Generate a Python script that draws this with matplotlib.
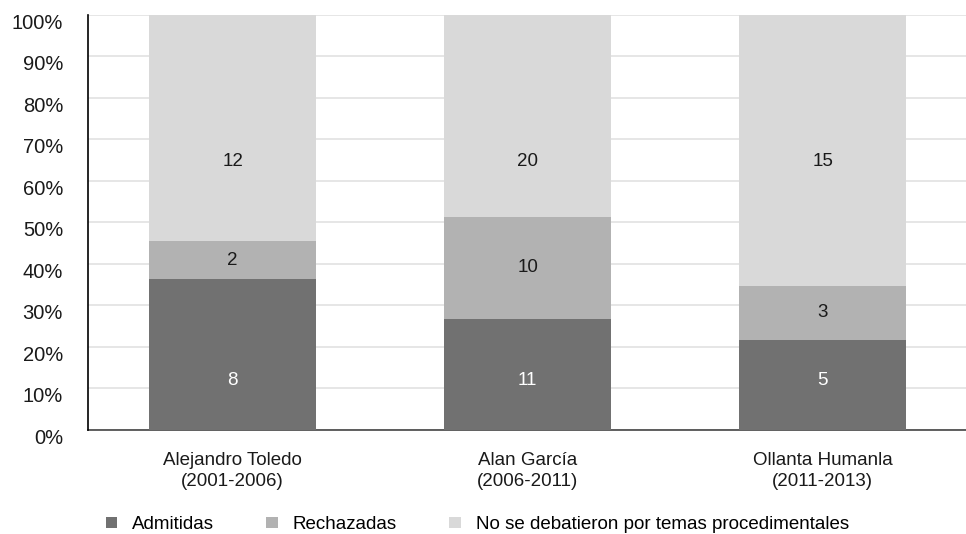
import matplotlib.pyplot as plt
import matplotlib.transforms as mtransforms
import numpy as np

plt.rcParams['font.family'] = ['Liberation Sans', 'DejaVu Sans']

presidentes = ['Alejandro Toledo\n(2001-2006)', 'Alan García\n(2006-2011)', 'Ollanta Humanla\n(2011-2013)']
admitidas = [8, 11, 5]
rechazadas = [2, 10, 3]
no_debatidas = [12, 20, 15]

# nombre, valores, color, color del texto, altura fija de la etiqueta (None = centro del tramo)
series = [
    ('Admitidas', admitidas, '#717171', 'white', 12),
    ('Rechazadas', rechazadas, '#b2b2b2', '#1a1a1a', None),
    ('No se debatieron por temas procedimentales', no_debatidas, '#d9d9d9', '#1a1a1a', 64.7),
]

totales = np.array(admitidas) + np.array(rechazadas) + np.array(no_debatidas)

fig = plt.figure(figsize=(9.66, 5.34), dpi=100)
ax = fig.add_axes([0.0911, 0.195, 0.9089, 0.777])

x = np.arange(len(presidentes))
base = np.zeros(len(presidentes))
for nombre, vals, color, tcolor, ypos in series:
    pct = np.array(vals) / totales * 100
    bars = ax.bar(x, pct, 0.566, bottom=base, color=color, label=nombre, zorder=3)
    for b, v, p, b0 in zip(bars, vals, pct, base):
        yl = b0 + p / 2 if ypos is None else ypos
        ax.text(b.get_x() + b.get_width() / 2, yl, str(v),
                ha='center', va='center', fontsize=13.5, color=tcolor, zorder=4)
    base = base + pct

ax.set_xlim(-0.49, 2.486)
ax.set_ylim(0, 100)
ax.set_yticks(np.arange(0, 101, 10))
ax.set_yticklabels([f'{t}%' for t in range(0, 101, 10)], fontsize=14.5, color='#1a1a1a')
ax.set_xticks(x)
ax.set_xticklabels(presidentes, fontsize=13.5, color='#1a1a1a', linespacing=1.3)
ax.tick_params(axis='both', length=0)
ax.tick_params(axis='x', pad=16)
ax.tick_params(axis='y', pad=18)

# etiquetas del eje y un poco por debajo de la linea
offset = mtransforms.ScaledTranslation(0, -6.5 / 100, fig.dpi_scale_trans)
for lab in ax.get_yticklabels():
    lab.set_transform(lab.get_transform() + offset)

ax.grid(axis='y', color='#e2e2e2', linewidth=1.2, zorder=0)
ax.set_axisbelow(True)
for s in ['top', 'right']:
    ax.spines[s].set_visible(False)
ax.spines['left'].set_color('black')
ax.spines['left'].set_linewidth(1.2)
ax.spines['bottom'].set_color('#444444')
ax.spines['bottom'].set_linewidth(1.2)
ax.spines['bottom'].set_zorder(2)

fig.legend(loc='lower center', bbox_to_anchor=(0.494, -0.03), ncol=3, frameon=False,
           fontsize=13.5, handlelength=0.6, handleheight=0.6, handletextpad=0.8,
           columnspacing=2.8)

fig.savefig('out.png', dpi=100)
